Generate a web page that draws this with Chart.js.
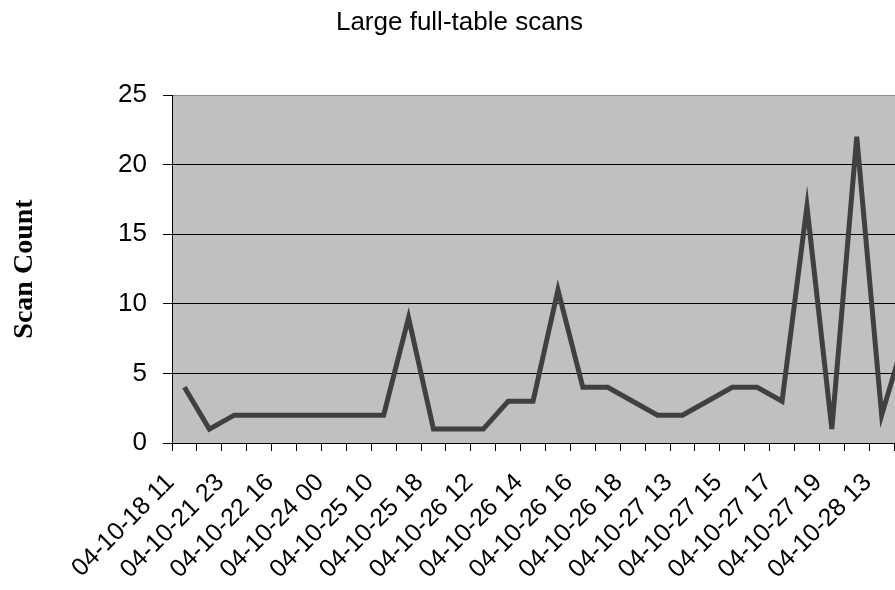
<!DOCTYPE html>
<html>
<head>
<meta charset="utf-8">
<title>Large full-table scans</title>
<script src="https://cdn.jsdelivr.net/npm/chart.js@4.4.1/dist/chart.umd.min.js"></script>
<style>
  html, body { margin: 0; padding: 0; background: #ffffff; overflow: hidden; }
  #wrap { width: 895px; height: 590px; overflow: hidden; }
  canvas { display: block; }
</style>
</head>
<body>
<div id="wrap"><canvas id="scanChart" width="920" height="590"></canvas></div>
<script>
'use strict';

// every second time bucket carries a label
const tickLabels = [
  '04-10-18 11', '04-10-21 23', '04-10-22 16', '04-10-24 00', '04-10-25 10',
  '04-10-25 18', '04-10-26 12', '04-10-26 14', '04-10-26 16', '04-10-26 18',
  '04-10-27 13', '04-10-27 15', '04-10-27 17', '04-10-27 19', '04-10-28 13'
];
const scanCounts = [
  4, 1, 2, 2, 2, 2, 2, 2, 2, 9,
  1, 1, 1, 3, 3, 11, 4, 4, 3, 2,
  2, 3, 4, 4, 3, 17, 1, 22, 2, 8
];
const yTicks = [0, 5, 10, 15, 20, 25];

const categories = scanCounts.map((v, i) => (i % 2 === 0 ? (tickLabels[i / 2] || '') : ''));

document.addEventListener('DOMContentLoaded', function () {
  // grey plot area like the old spreadsheet charts
  const plotBackground = {
    id: 'plotBackground',
    beforeDraw(chart) {
      const { ctx, chartArea } = chart;
      ctx.save();
      ctx.fillStyle = '#c0c0c0';
      ctx.fillRect(chartArea.left, chartArea.top, chartArea.right - chartArea.left, chartArea.bottom - chartArea.top);
      ctx.restore();
    }
  };

  const ctx = document.getElementById('scanChart').getContext('2d');
  new Chart(ctx, {
    type: 'line',
    data: {
      labels: categories,
      datasets: [{
        label: 'Scan Count',
        data: scanCounts,
        borderColor: '#404040',
        borderWidth: 5,
        pointRadius: 0,
        tension: 0,
        fill: false
      }]
    },
    options: {
      responsive: false,
      animation: false,
      layout: { padding: { left: 0, right: 1, top: 0, bottom: 0 } },
      plugins: {
        legend: { display: false },
        tooltip: { enabled: false },
        title: {
          display: true,
          text: 'Large full-table scans',
          color: '#000000',
          font: { family: 'Liberation Sans', size: 26, weight: 'normal' },
          padding: { top: 7, bottom: 56.8 }
        }
      },
      scales: {
        x: {
          type: 'category',
          offset: true,
          afterFit(scale) {
            scale.height = 147;
            // rotated labels would otherwise squeeze the plot from the sides
            scale.paddingLeft = 0;
            scale.paddingRight = 0;
          },
          grid: {
            offset: true,
            drawOnChartArea: false,
            drawTicks: true,
            tickLength: 8,
            color: '#000000'
          },
          border: { color: '#000000', width: 1 },
          ticks: {
            autoSkip: false,
            minRotation: 45,
            maxRotation: 45,
            padding: 17,
            labelOffset: -14,
            color: '#000000',
            font: { family: 'Liberation Sans', size: 25 }
          }
        },
        y: {
          min: yTicks[0],
          max: yTicks[yTicks.length - 1],
          afterFit(scale) { scale.width = 172; },
          afterBuildTicks(scale) { scale.ticks = yTicks.map(v => ({ value: v })); },
          grid: {
            color: c => (c.tick && c.tick.value === 25 ? '#8c8c8c' : '#000000'),
            tickColor: '#000000',
            tickLength: 9,
            lineWidth: 1
          },
          border: { color: '#000000', width: 1 },
          ticks: {
            padding: 16,
            color: '#000000',
            font: { family: 'Liberation Sans', size: 26 }
          },
          title: {
            display: true,
            text: 'Scan Count',
            color: '#000000',
            font: { family: 'Liberation Serif', size: 28, weight: 'bold' },
            padding: { top: 8, bottom: 0 }
          }
        }
      }
    },
    plugins: [plotBackground]
  });
});
</script>
</body>
</html>
